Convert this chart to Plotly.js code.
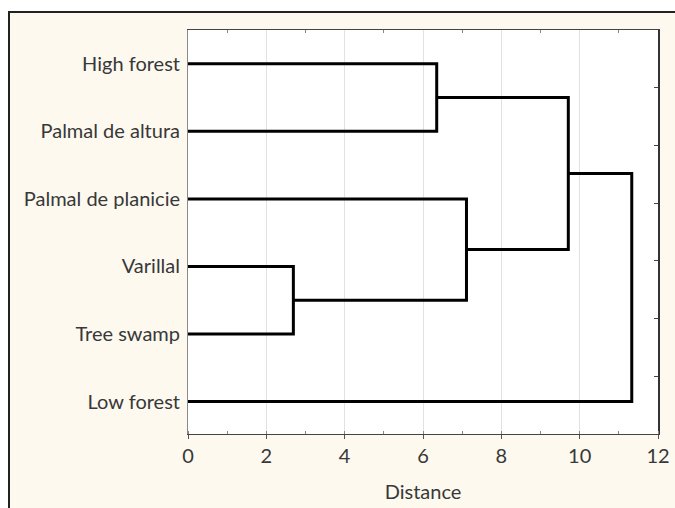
<!DOCTYPE html>
<html>
<head>
<meta charset="utf-8">
<script src="https://cdn.plot.ly/plotly-3.0.1.min.js"></script>
<style>
  html, body { margin:0; padding:0; background:#ffffff; }
  #frame { position:absolute; left:8px; top:11px; width:700px; height:520px;
           background:#fdf9ef; border-left:2px solid #222; border-top:2px solid #222; }
  #chart { position:absolute; left:0; top:0; width:675px; height:508px; }
</style>
</head>
<body>
<div id="frame"></div>
<div id="chart"></div>
<script>
// Leaves, top to bottom
const leaves = ["High forest", "Palmal de altura", "Palmal de planicie", "Varillal", "Tree swamp", "Low forest"];
// Merges: pairs of node ids (0..5 are leaves, 6.. are merged clusters in order)
const mergeLeft  = [3, 0, 2, 7, 9];
const mergeRight = [4, 1, 6, 8, 5];
// Linkage distances of each merge
const mergeDistance = [2.69, 6.35, 7.11, 9.71, 11.33];
const xTickVals = [0, 2, 4, 6, 8, 10, 12];

// node positions: y = leaf index or mean of children, x = height
const nodeY = leaves.map((_, i) => i);
const nodeX = leaves.map(() => 0);
const traces = [];
for (let k = 0; k < mergeLeft.length; k++) {
  const a = mergeLeft[k], b = mergeRight[k], d = mergeDistance[k];
  traces.push({
    x: [nodeX[a], d, d, nodeX[b]],
    y: [nodeY[a], nodeY[a], nodeY[b], nodeY[b]],
    type: 'scatter', mode: 'lines',
    line: { color: '#000000', width: 3 },
    hoverinfo: 'skip', showlegend: false
  });
  nodeY.push((nodeY[a] + nodeY[b]) / 2);
  nodeX.push(d);
}
// invisible trace on secondary axes for frame ticks
traces.push({ x: [0], y: [0], xaxis: 'x2', yaxis: 'y2', type: 'scatter', mode: 'markers',
  marker: { opacity: 0 }, hoverinfo: 'skip', showlegend: false });

const font = { family: 'Lato, "Open Sans", sans-serif', size: 20, color: '#383838' };

const layout = {
  width: 675, height: 508,
  margin: { l: 188, r: 17, t: 30, b: 74 },
  paper_bgcolor: 'rgba(0,0,0,0)',
  plot_bgcolor: '#ffffff',
  font: font,
  xaxis: {
    range: [0, 12], autorange: false,
    tickvals: xTickVals, ticktext: xTickVals.map(String),
    ticks: 'outside', ticklen: 4, tickcolor: '#555', tickwidth: 1,
    minor: { dtick: 1, tick0: 1, ticks: 'inside', ticklen: 3, tickcolor: '#888', showgrid: false },
    showgrid: true, gridcolor: '#e2e2e2', gridwidth: 1,
    showline: true, linecolor: '#444', linewidth: 1,
    zeroline: false,
    tickfont: font,
    title: { text: 'Distance', font: font, standoff: 18 }
  },
  yaxis: {
    range: [5.48, -0.5], autorange: false,
    tickvals: leaves.map((_, i) => i), ticktext: leaves,
    ticks: '', showgrid: false, zeroline: false,
    showline: true, linecolor: '#8a8a8a', linewidth: 1,
    tickfont: font, ticklabelstandoff: 3
  },
  xaxis2: {
    overlaying: 'x', side: 'top', range: [0, 12], autorange: false,
    tickvals: [1, 3, 5, 7, 9, 11], ticks: 'inside', ticklen: 3, tickcolor: '#888',
    showticklabels: false, showgrid: false, zeroline: false,
    showline: true, linecolor: '#444', linewidth: 1
  },
  yaxis2: {
    overlaying: 'y', side: 'right', range: [0, 7], autorange: false,
    tickvals: [1, 2, 3, 4, 5, 6], ticks: 'inside', ticklen: 4, tickcolor: '#444',
    showticklabels: false, showgrid: false, zeroline: false,
    showline: true, linecolor: '#333', linewidth: 2
  }
};

Plotly.newPlot('chart', traces, layout, { displayModeBar: false, staticPlot: true });
</script>
</body>
</html>
